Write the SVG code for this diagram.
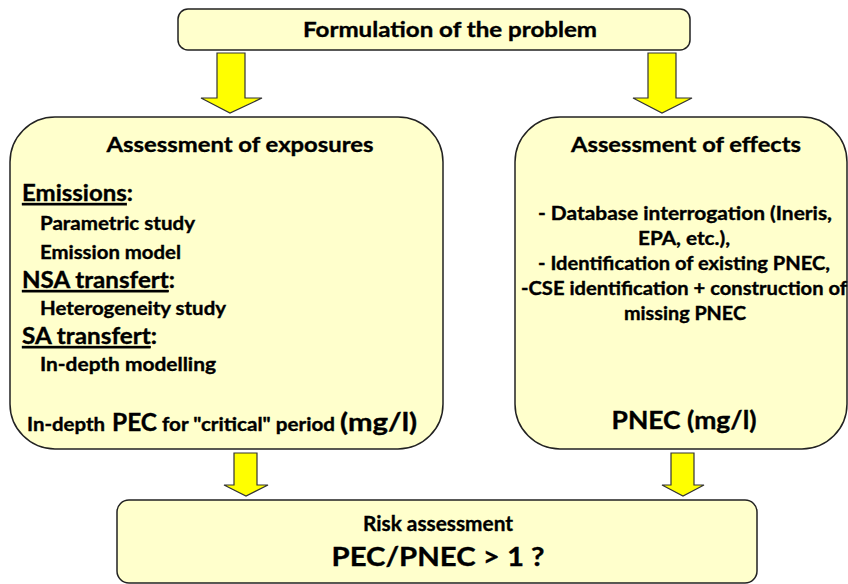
<svg xmlns="http://www.w3.org/2000/svg" width="848" height="584" viewBox="0 0 848 584">
<style>
.box{fill:#FFFFCC;stroke:#222;stroke-width:1.5}
.arr{fill:#FFFF00;stroke:#333;stroke-width:1.2;stroke-linejoin:miter}
text{font-family:Lato,"Liberation Sans",sans-serif;font-weight:bold;fill:#000;stroke:#000;stroke-width:0.35}
.h{font-size:21px}
.hh{font-size:22px}
.b{font-size:18px}
.big{font-size:24px}
.u{text-decoration:underline}
</style>
<rect width="848" height="584" fill="#fff"/>
<g id="connectors">
<path class="arr" d="M217,53 H245 V98 H262 L230,113 L201,98 H217 Z"/>
<path class="arr" d="M648,53 H676 V98 H692 L662,113 L633,98 H648 Z"/>
<path class="arr" d="M234,453 H257 V485 H268 L246,496 L224,485 H234 Z"/>
<path class="arr" d="M671,453 H694 V485 H704 L683,496 L662,485 H671 Z"/>
</g>
<g id="formulation">
<rect class="box" x="178" y="9" width="512" height="41" rx="10"/>
<text class="h" x="450" y="37" text-anchor="middle" textLength="294" lengthAdjust="spacingAndGlyphs">Formulation of the problem</text>
</g>
<g id="exposures">
<rect class="box" x="10" y="117" width="433" height="332" rx="45"/>
<text class="h" x="240" y="152" text-anchor="middle" textLength="267" lengthAdjust="spacingAndGlyphs">Assessment of exposures</text>
<text class="hh" x="22" y="201" textLength="111" lengthAdjust="spacingAndGlyphs"><tspan class="u">Emissions</tspan>:</text>
<text class="b" x="40" y="230" textLength="155" lengthAdjust="spacingAndGlyphs">Parametric study</text>
<text class="b" x="40" y="259" textLength="141" lengthAdjust="spacingAndGlyphs">Emission model</text>
<text class="hh" x="22" y="288" textLength="153" lengthAdjust="spacingAndGlyphs"><tspan class="u">NSA transfert</tspan>:</text>
<text class="b" x="40" y="315" textLength="186" lengthAdjust="spacingAndGlyphs">Heterogeneity study</text>
<text class="hh" x="22" y="344" textLength="135" lengthAdjust="spacingAndGlyphs"><tspan class="u">SA transfert</tspan>:</text>
<text class="b" x="40" y="371" textLength="176" lengthAdjust="spacingAndGlyphs">In-depth modelling</text>
<text class="b" x="27" y="431" textLength="78" lengthAdjust="spacingAndGlyphs">In-depth</text>
<text class="big" x="112" y="431" textLength="45" lengthAdjust="spacingAndGlyphs">PEC</text>
<text class="b" x="162" y="431" textLength="173" lengthAdjust="spacingAndGlyphs">for "critical" period</text>
<text class="big" x="340" y="431" textLength="77" lengthAdjust="spacingAndGlyphs">(mg/l)</text>
</g>
<g id="effects">
<rect class="box" x="515" y="117" width="332" height="332" rx="45"/>
<text class="h" x="686" y="152" text-anchor="middle" textLength="230" lengthAdjust="spacingAndGlyphs">Assessment of effects</text>
<text class="b" x="685" y="220" text-anchor="middle" textLength="294" lengthAdjust="spacingAndGlyphs">- Database interrogation (Ineris,</text>
<text class="b" x="684" y="245" text-anchor="middle" textLength="92" lengthAdjust="spacingAndGlyphs">EPA, etc.),</text>
<text class="b" x="684" y="270" text-anchor="middle" textLength="292" lengthAdjust="spacingAndGlyphs">- Identification of existing PNEC,</text>
<text class="b" x="684" y="295" text-anchor="middle" textLength="326" lengthAdjust="spacingAndGlyphs">-CSE identification + construction of</text>
<text class="b" x="685" y="320" text-anchor="middle" textLength="122" lengthAdjust="spacingAndGlyphs">missing PNEC</text>
<text class="big" x="684" y="429" text-anchor="middle" textLength="145" lengthAdjust="spacingAndGlyphs">PNEC (mg/l)</text>
</g>
<g id="risk">
<rect class="box" x="117" y="500" width="640" height="83" rx="12"/>
<text class="h" x="438" y="531" text-anchor="middle" textLength="150" lengthAdjust="spacingAndGlyphs">Risk assessment</text>
<text class="big" x="438" y="566" text-anchor="middle" style="font-size:27px" textLength="213" lengthAdjust="spacingAndGlyphs">PEC/PNEC &gt; 1 ?</text>
</g>
</svg>
